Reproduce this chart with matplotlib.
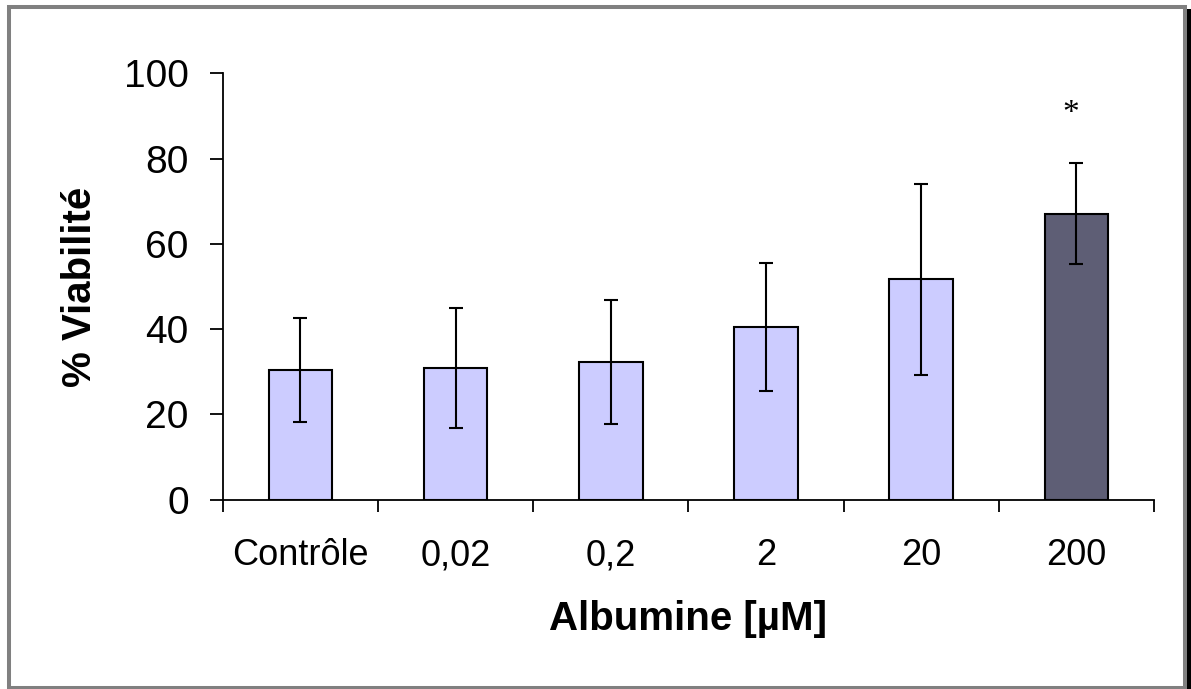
import matplotlib
matplotlib.use('Agg')
import matplotlib.pyplot as plt
from matplotlib.patches import Rectangle

# data
categories = ['Contrôle', '0,02', '0,2', '2', '20', '200']
viability = [30.4, 30.9, 32.3, 40.5, 51.7, 67.1]
errors = [12.1, 14.1, 14.6, 15.0, 22.4, 11.8]
bar_colors = ['#CCCCFF', '#CCCCFF', '#CCCCFF', '#CCCCFF', '#CCCCFF', '#5E5E75']
star_index = 5
star_y = 90.5

plt.rcParams['font.family'] = ['Liberation Sans', 'DejaVu Sans']

fig = plt.figure(figsize=(11.91, 6.89), dpi=100)
ax = fig.add_axes([0.187, 0.275, 0.969 - 0.187, 0.8936 - 0.275])

x = range(len(categories))
ax.bar(x, viability, width=0.41, color=bar_colors, edgecolor='black',
       linewidth=1.5, zorder=2)
ax.errorbar(x, viability, yerr=errors, fmt='none', ecolor='black',
            elinewidth=1.5, capsize=5, capthick=1.5, zorder=3)

ax.text(star_index - 0.04, star_y, '*', ha='center', va='center',
        fontsize=24, family='Liberation Serif')

ax.set_xlim(-0.5, len(categories) - 0.5)
ax.set_ylim(0, 100)
ax.set_yticks([0, 20, 40, 60, 80, 100])

# ticks between categories, labels centred under the bars
ax.set_xticks([i - 0.5 for i in range(len(categories) + 1)])
ax.set_xticklabels([])
ax.set_xticks(list(x), minor=True)
ax.set_xticklabels(categories, minor=True)
ax.tick_params(axis='x', which='major', direction='out', length=8.6, width=1.3)
ax.tick_params(axis='x', which='minor', length=0, pad=28, labelsize=26)
ax.tick_params(axis='y', direction='out', length=9.4, width=1.3, pad=15,
               labelsize=28)

for side in ['top', 'right']:
    ax.spines[side].set_visible(False)
for side in ['left', 'bottom']:
    ax.spines[side].set_linewidth(1.3)

ax.set_ylabel('% Viabilité', fontsize=29, fontweight='bold')
ax.yaxis.set_label_coords(-0.133, 0.5)
ax.set_xlabel('Albumine [µM]', fontsize=29, fontweight='bold')
ax.xaxis.set_label_coords(0.5, -0.235)

# frame around the chart with a shadow on the right
fig.patches.append(Rectangle((9 / 1191, 1.5 / 689), 1176 / 1191, 680.5 / 689,
                             transform=fig.transFigure, fill=False,
                             edgecolor='#808080', linewidth=2.9))
fig.patches.append(Rectangle((1187 / 1191, 0), 4 / 1191, 680 / 689,
                             transform=fig.transFigure, color='black',
                             linewidth=0))

plt.savefig('out.png', dpi=100)
